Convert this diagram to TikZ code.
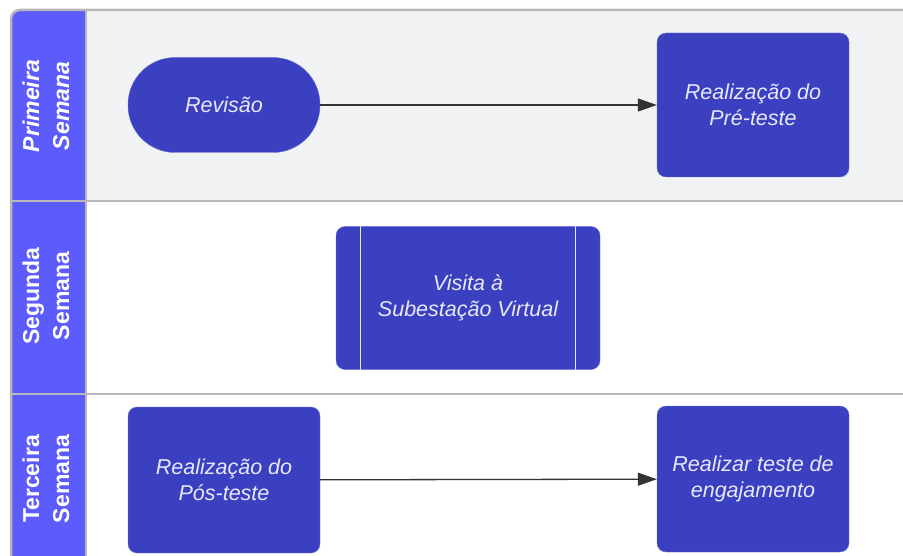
\documentclass[tikz,border=0pt]{standalone}
\usepackage{fontspec}
\setmainfont{Liberation Sans}
\usepackage{tikz}
\usetikzlibrary{arrows.meta,calc}
\definecolor{lanehead}{RGB}{92,92,253}
\definecolor{stepblue}{RGB}{58,64,191}
\definecolor{stepedge}{RGB}{110,116,220}
\definecolor{stepfont}{RGB}{232,232,252}
\definecolor{laneshade}{RGB}{241,242,244}
\definecolor{laneline}{RGB}{184,184,184}
\definecolor{flowline}{RGB}{51,51,51}

\tikzset{
    stepbox/.style={draw=stepedge,fill=stepblue,text=stepfont,rounded corners=9pt,
        minimum width=192pt,minimum height=144pt,align=center,
        font=\fontsize{21.5}{26}\selectfont\itshape},
    lanelabel/.style={text=white,rotate=90,align=center,
        font=\fontsize{23}{30}\selectfont\bfseries},
    flow/.style={draw=flowline,line width=1.3pt,-{Triangle[length=19pt,width=13pt]}}
}

\begin{document}
\begin{tikzpicture}[x=1pt,y=-1pt]
    \useasboundingbox (0,0) rectangle (903,556);

    % Lanes
    \fill[laneshade] (86,10) rectangle (903,201);
    \fill[lanehead] (11,556) [rounded corners=9pt] -- (11,10) [sharp corners] -- (86,10) -- (86,556) -- cycle;
    \draw[laneline,line width=2.5pt] (11,556) [rounded corners=9pt] -- (11,10) [sharp corners] -- (903,10);
    \draw[laneline,line width=2.5pt] (86,10) -- (86,556);
    \draw[laneline,line width=2.5pt] (11,201) -- (903,201);
    \draw[laneline,line width=2.5pt] (11,394) -- (903,394);

    \node[lanelabel] (week1) at (46,106) {\itshape Primeira\\\itshape Semana};
    \node[lanelabel] (week2) at (46,296) {Segunda\\Semana};
    \node[lanelabel] (week3) at (46,479) {Terceira\\Semana};

    % First week
    \node[stepbox,rounded corners=47pt,minimum height=95pt] (revisao) at (224,105) {Revis\~ao};
    \node[stepbox] (preteste) at (753,105) {Realiza\c{c}\~ao do\\Pr\'e-teste};
    \draw[flow] (revisao) -- (preteste);

    % Second week
    \node[stepbox,minimum width=264pt,minimum height=143pt] (visita) at (468,298)
        {Visita \`a\\Subesta\c{c}\~ao Virtual};
    \draw[stepfont,line width=1.2pt] ($(visita.north west)+(25,0)$) -- ($(visita.south west)+(25,0)$);
    \draw[stepfont,line width=1.2pt] ($(visita.north east)+(-25,0)$) -- ($(visita.south east)+(-25,0)$);

    % Third week
    \node[stepbox,minimum height=146pt] (posteste) at (224,480) {Realiza\c{c}\~ao do\\P\'os-teste};
    \node[stepbox,minimum height=146pt] (engaja) at (753,479) {Realizar teste de\\engajamento};
    \draw[flow] (posteste) -- (engaja);
\end{tikzpicture}
\end{document}
